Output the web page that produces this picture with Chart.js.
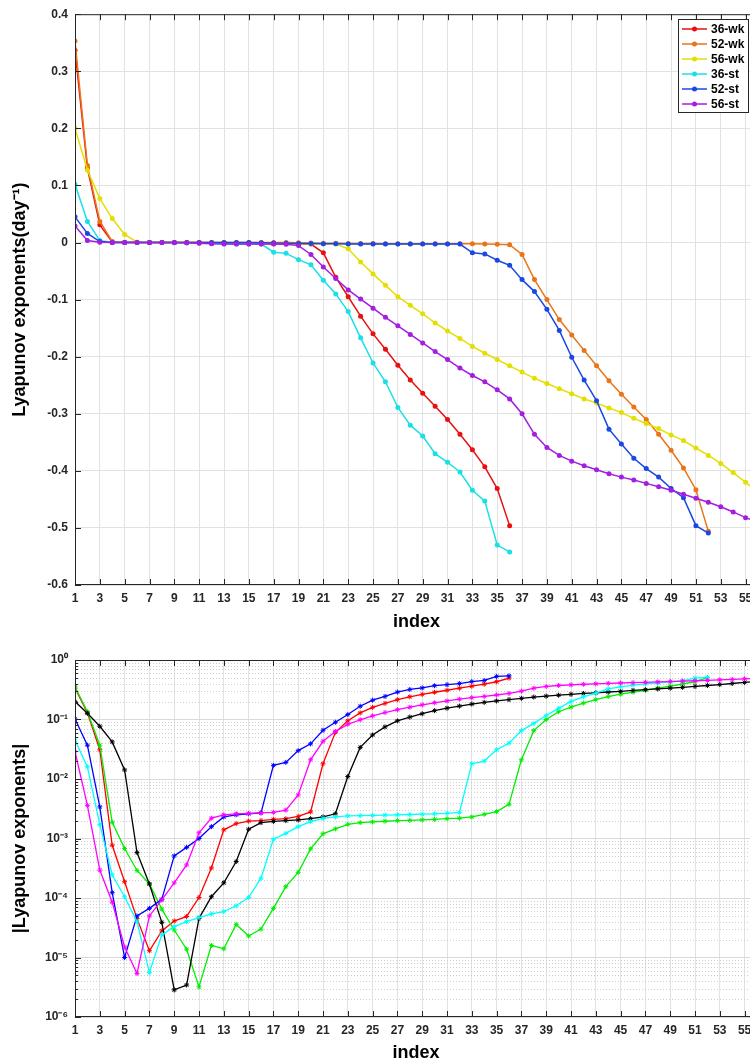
<!DOCTYPE html>
<html>
<head>
<meta charset="utf-8">
<title>Exponentes de Lyapunov</title>
<script src="https://cdn.jsdelivr.net/npm/chart.js@4.4.1/dist/chart.umd.min.js"></script>
<style>
    html, body { margin: 0; padding: 0; background: #fff; overflow: hidden; }
    #contenedor { position: relative; width: 750px; height: 1063px; overflow: hidden; }
    canvas { position: absolute; left: 0; }
    #graficaArriba { top: 0; }
    #graficaAbajo { top: 640px; }
</style>
</head>
<body>
<div id="contenedor">
    <canvas id="graficaArriba" width="762" height="640"></canvas>
    <canvas id="graficaAbajo" width="762" height="423"></canvas>
</div>
<script>
// series (valores con signo); la grafica de abajo usa el valor absoluto
const nombres = ['36-wk', '52-wk', '56-wk', '36-st', '52-st', '56-st'];

const wk36 = [0.337, 0.13, 0.031, 7.7e-4, 1.88e-4, 4.5e-5, 1.3e-5, -2.8e-5, -4.1e-5, -4.9e-5,
    -1.02e-4, -3.2e-4, -1.4e-3, -1.78e-3, -1.96e-3, -2.0e-3, -2.1e-3, -2.15e-3, -2.35e-3, -2.8e-3,
    -0.018, -0.061, -0.095, -0.129, -0.160, -0.187, -0.215, -0.241, -0.264, -0.287,
    -0.310, -0.336, -0.363, -0.393, -0.431, -0.496];

const wk52 = [0.353, 0.135, 0.037, 1.87e-3, 6.8e-4, 2.9e-4, 1.72e-4, 6.5e-5, 2.9e-5, 1.38e-5,
    3.2e-6, -1.6e-5, -1.4e-5, -3.6e-5, -2.3e-5, -3.0e-5, -6.7e-5, -1.55e-4, -2.7e-4, -6.7e-4,
    -1.2e-3, -1.45e-3, -1.73e-3, -1.85e-3, -1.9e-3, -1.95e-3, -2.0e-3, -2.02e-3, -2.05e-3, -2.1e-3,
    -2.15e-3, -2.2e-3, -2.3e-3, -2.55e-3, -2.83e-3, -3.75e-3, -0.021, -0.065, -0.1, -0.135,
    -0.162, -0.189, -0.216, -0.242, -0.266, -0.288, -0.31, -0.336, -0.364, -0.395,
    -0.433, -0.506];

const wk56 = [0.2, 0.127, 0.077, 0.042, 0.0142, 5.8e-4, 1.72e-4, 3.9e-5, 2.85e-6, -3.45e-6,
    -4.55e-5, -1.05e-4, -1.8e-4, -4.1e-4, -1.43e-3, -1.85e-3, -1.94e-3, -2.0e-3, -2.05e-3, -2.15e-3,
    -2.3e-3, -2.6e-3, -0.011, -0.034, -0.055, -0.075, -0.095, -0.11, -0.125, -0.141,
    -0.155, -0.168, -0.182, -0.194, -0.205, -0.216, -0.227, -0.238, -0.247, -0.256,
    -0.265, -0.274, -0.281, -0.29, -0.298, -0.308, -0.317, -0.326, -0.337, -0.347,
    -0.36, -0.373, -0.387, -0.403, -0.42, -0.438];

const st36 = [0.102, 0.037, 0.0034, 1.23e-4, 1.0e-5, -5.0e-5, -6.7e-5, -9.5e-5, -5.1e-4, -7.1e-4,
    -1.0e-3, -1.58e-3, -2.3e-3, -2.5e-3, -2.6e-3, -2.7e-3, -0.017, -0.019, -0.030, -0.039,
    -0.066, -0.09, -0.121, -0.167, -0.211, -0.244, -0.289, -0.32, -0.339, -0.37,
    -0.385, -0.402, -0.434, -0.453, -0.53, -0.542];

const st52 = [0.045, 0.016, 1.73e-3, 2.44e-4, 1.05e-4, 4.0e-5, 5.6e-6, -2.4e-5, -3.3e-5, -4.0e-5,
    -4.7e-5, -5.4e-5, -5.9e-5, -7.4e-5, -1.02e-4, -2.15e-4, -9.7e-4, -1.22e-3, -1.58e-3, -1.92e-3,
    -2.18e-3, -2.3e-3, -2.4e-3, -2.42e-3, -2.45e-3, -2.48e-3, -2.5e-3, -2.53e-3, -2.56e-3, -2.6e-3,
    -2.65e-3, -2.75e-3, -0.018, -0.02, -0.031, -0.04, -0.065, -0.086, -0.117, -0.154,
    -0.201, -0.241, -0.277, -0.327, -0.353, -0.378, -0.396, -0.411, -0.431, -0.447,
    -0.496, -0.509];

const st56 = [0.029, 0.0036, 2.95e-4, 8.5e-5, 1.5e-5, 5.4e-6, -5.0e-5, -9.3e-5, -1.8e-4, -3.6e-4,
    -1.25e-3, -2.2e-3, -2.5e-3, -2.6e-3, -2.65e-3, -2.7e-3, -2.75e-3, -3.0e-3, -5.4e-3, -0.021,
    -0.043, -0.063, -0.083, -0.099, -0.115, -0.131, -0.146, -0.161, -0.176, -0.191,
    -0.205, -0.22, -0.233, -0.244, -0.258, -0.274, -0.3, -0.336, -0.359, -0.373,
    -0.383, -0.391, -0.398, -0.405, -0.411, -0.416, -0.422, -0.428, -0.434, -0.441,
    -0.448, -0.455, -0.463, -0.472, -0.482, -0.49];

const series = [wk36, wk52, wk56, st36, st52, st56];

const ticksX = [1, 3, 5, 7, 9, 11, 13, 15, 17, 19, 21, 23, 25, 27, 29, 31, 33, 35, 37, 39,
    41, 43, 45, 47, 49, 51, 53, 55];
const ticksLineal = [-0.6, -0.5, -0.4, -0.3, -0.2, -0.1, 0, 0.1, 0.2, 0.3, 0.4];
const ticksLog = [1e-6, 1e-5, 1e-4, 1e-3, 1e-2, 1e-1, 1];

const coloresArriba = ['#e81010', '#ea7418', '#e4df00', '#18e0e6', '#1a48e2', '#a41ee0'];
const coloresAbajo = ['#ff0000', '#00ee00', '#000000', '#0000ff', '#00ffff', '#ff00ff'];

const superindices = { '-': '\u207B', '0': '\u2070', '1': '\u00B9', '2': '\u00B2', '3': '\u00B3',
    '4': '\u2074', '5': '\u2075', '6': '\u2076' };

function potencia(v) {
    const n = Math.round(Math.log10(v));
    return '10' + String(n).split('').map(c => superindices[c]).join('');
}

Chart.defaults.font.family = '"Liberation Sans", Arial, sans-serif';
Chart.defaults.font.weight = 'bold';
Chart.defaults.font.size = 12;
Chart.defaults.color = '#262626';

// marco negro, marcas hacia dentro, rejilla menor log y leyenda
const pluginMarco = {
    id: 'marco',
    beforeDatasetsDraw(chart, args, opts) {
        if (!opts.log) return;
        const { ctx, chartArea: a, scales: { y } } = chart;
        ctx.save();
        ctx.strokeStyle = '#cfcfcf';
        ctx.lineWidth = 1;
        ctx.setLineDash([1, 2]);
        for (let d = 0; d < ticksLog.length - 1; d++) {
            for (let k = 2; k <= 9; k++) {
                const py = Math.round(y.getPixelForValue(k * ticksLog[d])) + 0.5;
                ctx.beginPath();
                ctx.moveTo(a.left, py);
                ctx.lineTo(a.right, py);
                ctx.stroke();
            }
        }
        ctx.restore();
    },
    afterDraw(chart, args, opts) {
        const { ctx, chartArea: a, scales: { x, y } } = chart;
        ctx.save();
        ctx.strokeStyle = '#262626';
        ctx.lineWidth = 1;
        ctx.strokeRect(a.left + 0.5, a.top + 0.5, a.right - a.left - 1, a.bottom - a.top - 1);

        ctx.beginPath();
        x.ticks.forEach(t => {
            const px = Math.round(x.getPixelForValue(t.value)) + 0.5;
            ctx.moveTo(px, a.bottom); ctx.lineTo(px, a.bottom - 6);
            ctx.moveTo(px, a.top); ctx.lineTo(px, a.top + 6);
        });
        y.ticks.forEach(t => {
            const py = Math.round(y.getPixelForValue(t.value)) + 0.5;
            ctx.moveTo(a.left, py); ctx.lineTo(a.left + 6, py);
            ctx.moveTo(a.right, py); ctx.lineTo(a.right - 6, py);
        });
        if (opts.log) {
            for (let d = 0; d < ticksLog.length - 1; d++) {
                for (let k = 2; k <= 9; k++) {
                    const py = Math.round(y.getPixelForValue(k * ticksLog[d])) + 0.5;
                    ctx.moveTo(a.left, py); ctx.lineTo(a.left + 3, py);
                }
            }
        }
        ctx.stroke();

        if (opts.leyenda) {
            const caja = { x: 678, y: 19, w: 71, h: 94 };
            ctx.fillStyle = '#fff';
            ctx.fillRect(caja.x, caja.y, caja.w, caja.h);
            ctx.strokeStyle = '#262626';
            ctx.strokeRect(caja.x + 0.5, caja.y + 0.5, caja.w - 1, caja.h - 1);
            chart.data.datasets.forEach((ds, k) => {
                const fy = caja.y + 10 + k * 15;
                ctx.strokeStyle = ds.borderColor;
                ctx.lineWidth = 1.5;
                ctx.beginPath();
                ctx.moveTo(caja.x + 4, fy);
                ctx.lineTo(caja.x + 29, fy);
                ctx.stroke();
                ctx.fillStyle = ds.borderColor;
                ctx.beginPath();
                ctx.arc(caja.x + 16.5, fy, 2.5, 0, Math.PI * 2);
                ctx.fill();
                ctx.fillStyle = '#000';
                ctx.font = 'bold 12px "Liberation Sans", Arial, sans-serif';
                ctx.textBaseline = 'middle';
                ctx.fillText(ds.label, caja.x + 33, fy + 0.5);
            });
        }
        ctx.restore();
    }
};

function escalaX(alto, padTitulo) {
    return {
        type: 'linear',
        min: 1,
        max: 56,
        afterBuildTicks: s => { s.ticks = ticksX.map(v => ({ value: v })); },
        afterFit: s => { s.height = alto; },
        ticks: { padding: 6, autoSkip: false, maxRotation: 0 },
        grid: { color: '#e2e2e2', drawTicks: false },
        border: { display: false },
        title: {
            display: true, text: 'index', color: '#000',
            font: { size: 18, weight: 'bold', lineHeight: 1 },
            padding: { top: 0, bottom: padTitulo }
        }
    };
}

function crearGraficaArriba() {
    const ctx = document.getElementById('graficaArriba');
    new Chart(ctx, {
        type: 'line',
        data: {
            datasets: series.map((s, k) => ({
                label: nombres[k],
                data: s.map((v, i) => ({ x: i + 1, y: v })),
                borderColor: coloresArriba[k],
                backgroundColor: coloresArriba[k],
                borderWidth: 1.5,
                pointRadius: 2.5,
                pointBorderWidth: 0,
                tension: 0,
                order: nombres.length - k
            }))
        },
        options: {
            responsive: false,
            animation: false,
            layout: { padding: { top: 12, right: 2, left: 0, bottom: 0 } },
            plugins: {
                legend: { display: false },
                tooltip: { enabled: false },
                marco: { leyenda: true, log: false }
            },
            scales: {
                x: escalaX(55, 9),
                y: {
                    type: 'linear',
                    min: -0.6,
                    max: 0.4,
                    afterBuildTicks: s => { s.ticks = ticksLineal.map(v => ({ value: v })); },
                    afterFit: s => { s.width = 75; },
                    ticks: {
                        padding: 7,
                        callback: v => (Math.abs(v) < 1e-9 ? '0' : v.toFixed(1))
                    },
                    grid: { color: '#e2e2e2', drawTicks: false },
                    border: { display: false },
                    title: {
                        display: true, text: 'Lyapunov exponents(day\u207B\u00B9)', color: '#000',
                        font: { size: 18, weight: 'bold', lineHeight: 1 },
                        padding: { top: 11, bottom: 0 }
                    }
                }
            }
        },
        plugins: [pluginMarco]
    });
}

function crearGraficaAbajo() {
    const ctx = document.getElementById('graficaAbajo');
    new Chart(ctx, {
        type: 'line',
        data: {
            datasets: series.map((s, k) => ({
                label: nombres[k],
                data: s.map((v, i) => ({ x: i + 1, y: Math.abs(v) })),
                borderColor: coloresAbajo[k],
                backgroundColor: coloresAbajo[k],
                borderWidth: 1.3,
                pointStyle: 'star',
                pointRadius: 2.5,
                pointBorderWidth: 1,
                tension: 0,
                order: nombres.length - k
            }))
        },
        options: {
            responsive: false,
            animation: false,
            layout: { padding: { top: 20, right: 2, left: 0, bottom: 0 } },
            plugins: {
                legend: { display: false },
                tooltip: { enabled: false },
                marco: { leyenda: false, log: true }
            },
            scales: {
                x: escalaX(46, 1),
                y: {
                    type: 'logarithmic',
                    min: 1e-6,
                    max: 1,
                    afterBuildTicks: s => { s.ticks = ticksLog.map(v => ({ value: v })); },
                    afterFit: s => { s.width = 75; },
                    ticks: { padding: 7, callback: v => potencia(v) },
                    grid: { color: '#dadada', drawTicks: false },
                    border: { display: false },
                    title: {
                        display: true, text: '|Lyapunov exponents|', color: '#000',
                        font: { size: 18, weight: 'bold', lineHeight: 1 },
                        padding: { top: 11, bottom: 0 }
                    }
                }
            }
        },
        plugins: [pluginMarco]
    });
}

crearGraficaArriba();
crearGraficaAbajo();
</script>
</body>
</html>
